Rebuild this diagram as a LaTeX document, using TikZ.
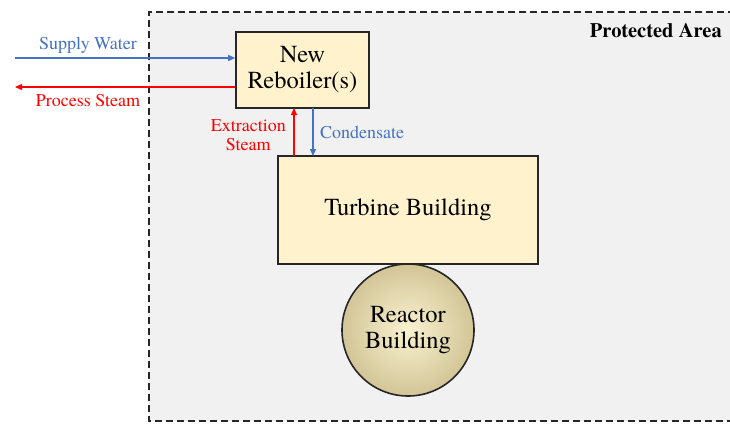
\documentclass[tikz,border=0pt]{standalone}
\usepackage{fontspec}
\setmainfont{TeX Gyre Termes}
\usetikzlibrary{arrows.meta}
\definecolor{bluea}{HTML}{4472C4}
\definecolor{reda}{HTML}{FF0000}
\definecolor{boxfill}{HTML}{FFF2CC}
\definecolor{areafill}{HTML}{F1F1F1}
\definecolor{sphin}{HTML}{FAF2D0}
\definecolor{sphout}{HTML}{D2C597}
\begin{document}
\begin{tikzpicture}[x=1pt,y=-1pt,
  bldg/.style={draw=black!85,line width=1.6pt,fill=boxfill,inner sep=0pt,align=center,font=\fontsize{24.5}{26}\selectfont},
  flow/.style={line width=1.3pt,-{Triangle[length=7pt,width=6pt]}},
  lbl/.style={font=\fontsize{18}{19}\selectfont,inner sep=0pt,align=center}]
\useasboundingbox (0,0) rectangle (730,423);
\fill[white] (0,0) rectangle (730,423);
\fill[areafill] (149,12) rectangle (735,421);
\draw[black!85,line width=2pt,dash pattern=on 7pt off 4pt] (735,12) -- (149,12) -- (149,421) -- (735,421);
\node[anchor=north east,inner sep=0pt,font=\bfseries\fontsize{20.5}{21}\selectfont] (pa) at (722,23) {Protected Area};
\node[bldg,minimum width=133pt,minimum height=76pt] (reb) at (302.5,70) {New\\Reboiler(s)};
\node[bldg,minimum width=260pt,minimum height=108pt] (tb) at (408,210) {Turbine Building};
\node[circle,draw=black!85,line width=1.6pt,inner color=sphin,outer color=sphout,minimum size=132pt,inner sep=0pt,align=center,font=\fontsize{24.5}{26}\selectfont] (rb) at (408,330) {Reactor\\Building};
\coordinate (sw) at (15,58);
\coordinate (ps) at (15,87);
\draw[flow,bluea] (sw) -- (sw -| reb.west);
\draw[flow,reda] (ps -| reb.west) -- (ps);
\node[lbl,text=bluea] (swl) at (88,45) {Supply Water};
\node[lbl,text=reda] (psl) at (88,101) {Process Steam};
\draw[flow,reda] (294,156) -- (294,108);
\draw[flow,bluea] (313,108) -- (313,156);
\node[lbl,text=reda,anchor=east] (esl) at (286,135) {Extraction\\Steam};
\node[lbl,text=bluea,anchor=west] (cdl) at (320,132) {Condensate};
\end{tikzpicture}
\end{document}
